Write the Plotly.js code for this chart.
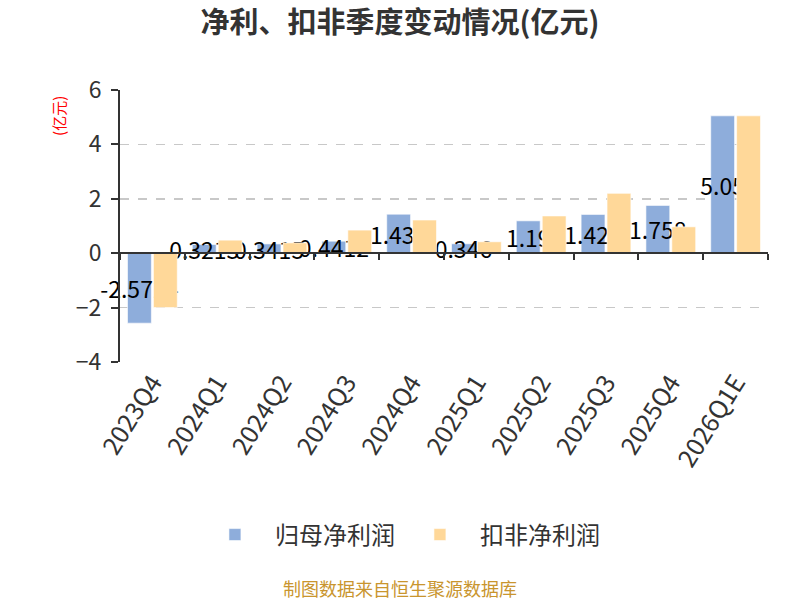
<!DOCTYPE html>
<html>
<head>
<meta charset="utf-8">
<script src="https://cdn.plot.ly/plotly-3.0.1.min.js"></script>
<style>html,body{margin:0;padding:0;background:#fff;}#chart{width:800px;height:600px;}</style>
</head>
<body>
<div id="chart"></div>
<script>
// ---- data ----
var categories = ['2023Q4','2024Q1','2024Q2','2024Q3','2024Q4','2025Q1','2025Q2','2025Q3','2025Q4','2026Q1E'];
var netProfit = [-2.5724, 0.3213, 0.3415, 0.4412, 1.435, 0.346, 1.19, 1.425, 1.758, 5.05];
var deductedProfit = [-2.0, 0.48, 0.38, 0.85, 1.22, 0.42, 1.37, 2.2, 0.97, 5.05];
var seriesNames = ['归母净利润', '扣非净利润'];
var yTickVals = [-4, -2, 0, 2, 4, 6];
var titleText = '净利、扣非季度变动情况(亿元)';
var unitText = '(亿元)';
var sourceText = '制图数据来自恒生聚源数据库';

var FONT = '"Noto Sans CJK SC", "Noto Sans", sans-serif';

var traces = [
  {
    type: 'bar', name: seriesNames[0], x: categories, y: netProfit,
    marker: {color: '#8EADDB', line: {color: 'rgba(255,255,255,0.6)', width: 1}},
    text: netProfit.map(String), textposition: 'inside', insidetextanchor: 'middle',
    constraintext: 'none', textangle: 0, cliponaxis: false,
    insidetextfont: {family: FONT, size: 23, color: '#000'},
    hoverinfo: 'x+y'
  },
  {
    type: 'bar', name: seriesNames[1], x: categories, y: deductedProfit,
    marker: {color: '#FFD899', line: {color: 'rgba(255,255,255,0.6)', width: 1}},
    cliponaxis: false,
    hoverinfo: 'x+y'
  },
  {
    // helper trace so the zero-level axis (ticks at category boundaries) exists
    type: 'scatter', mode: 'none', x: categories, y: netProfit,
    xaxis: 'x2', showlegend: false, hoverinfo: 'skip'
  }
];

var layout = {
  width: 800, height: 600,
  margin: {l: 120, r: 32, t: 90, b: 238},
  paper_bgcolor: '#fff', plot_bgcolor: '#fff',
  font: {family: FONT, color: '#333'},
  title: {text: '<b>' + titleText + '</b>', font: {family: FONT, size: 29, color: '#333'},
          x: 0.5, xanchor: 'center', y: 0.962, yanchor: 'middle'},
  barmode: 'group', bargap: 0.2, bargroupgap: 0.08,
  xaxis: {
    type: 'category', tickangle: -58, ticks: '', showline: false, showgrid: false,
    zeroline: false, tickfont: {family: FONT, size: 25, color: '#333'}
  },
  xaxis2: {
    type: 'category', overlaying: 'x', matches: 'x', anchor: 'free', position: 0.4,
    showline: true, linecolor: '#333', linewidth: 2,
    ticks: 'outside', ticklen: 6, tickwidth: 2, tickcolor: '#333', tickson: 'boundaries',
    showticklabels: false, showgrid: false, zeroline: false
  },
  yaxis: {
    range: [-4, 6], tickvals: yTickVals, ticks: 'outside', ticklen: 7, tickwidth: 2,
    tickcolor: '#333', showline: true, linecolor: '#333', linewidth: 2,
    showgrid: true, gridcolor: '#c8c8c8', griddash: 'dash', gridwidth: 1.5,
    zeroline: false, ticklabelstandoff: 5,
    tickfont: {family: FONT, size: 23, color: '#333'}
  },
  showlegend: true,
  legend: {orientation: 'h', x: 0.432, xanchor: 'center', y: -0.636, yanchor: 'middle',
           font: {family: FONT, size: 24, color: '#333'}, itemwidth: 70},
  annotations: [
    {text: unitText, xref: 'paper', yref: 'paper', x: -0.094, y: 0.905,
     xanchor: 'center', yanchor: 'middle',
     textangle: -90, showarrow: false, font: {family: FONT, size: 15, color: '#ff0000'}},
    {text: sourceText, xref: 'paper', yref: 'paper', x: 0.432, y: -0.83,
     xanchor: 'center', yanchor: 'middle', showarrow: false,
     font: {family: FONT, size: 18, color: '#C9952E'}}
  ]
};

Plotly.newPlot('chart', traces, layout, {displayModeBar: false, staticPlot: true});
</script>
</body>
</html>
